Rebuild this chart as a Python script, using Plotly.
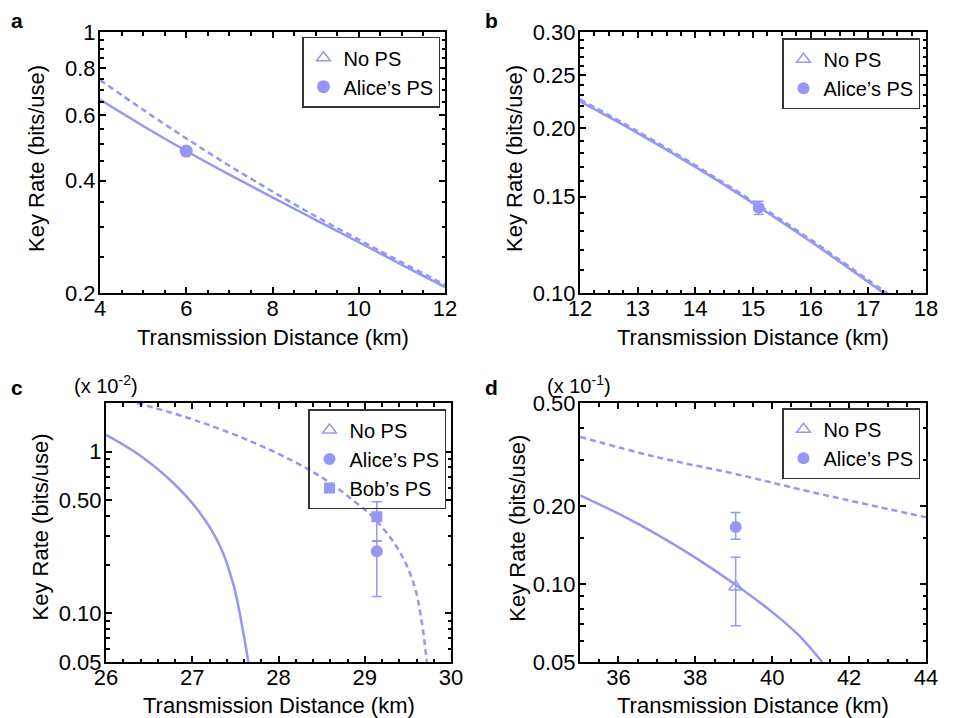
import plotly.graph_objects as go
import numpy as np

COLOR = "rgb(150,150,245)"
FONT = "Liberation Sans, Arial, sans-serif"

# ---------------- Panel a ----------------
a_x = [4, 5, 6, 7, 8, 9, 10, 11, 12]
a_solid = [0.659, 0.560, 0.48, 0.415, 0.3606, 0.314, 0.2735, 0.238, 0.2075]
a_dash = [0.744, 0.619, 0.519, 0.4385, 0.374, 0.321, 0.278, 0.2415, 0.2104]
a_alice_x, a_alice_y, a_alice_err = [6], [0.48], [0.01]
a_xticks = [4, 6, 8, 10, 12]
a_yticks = [0.2, 0.4, 0.6, 0.8, 1]
a_ytext = ["0.2", "0.4", "0.6", "0.8", "1"]
a_yminor = [0.25, 0.3, 0.35, 0.45, 0.5, 0.55, 0.65, 0.7, 0.75, 0.85, 0.9, 0.95]

# ---------------- Panel b ----------------
b_x_solid = [12, 13, 14, 15, 16, 17, 17.3]
b_solid = [0.224, 0.196, 0.170, 0.146, 0.1242, 0.1047, 0.0993]
b_x_dash = [12, 13, 14, 15, 16, 17, 17.35]
b_dash = [0.226, 0.1975, 0.1712, 0.147, 0.1252, 0.1056, 0.0995]
b_alice_x, b_alice_y, b_alice_err = [15.1], [0.1432], [0.004]
b_xticks = [12, 13, 14, 15, 16, 17, 18]
b_yticks = [0.10, 0.15, 0.20, 0.25, 0.30]
b_ytext = ["0.10", "0.15", "0.20", "0.25", "0.30"]
b_yminor = [0.11, 0.12, 0.13, 0.14, 0.16, 0.17, 0.18, 0.19, 0.21, 0.22, 0.23, 0.24, 0.26, 0.27, 0.28, 0.29]

# ---------------- Panel c ----------------
c_x_solid = [26, 26.39, 26.78, 27.09, 27.32, 27.48, 27.59, 27.65]
c_solid = [1.27, 0.95, 0.64, 0.418, 0.262, 0.149, 0.077, 0.05]
c_x_dash = [26.36, 27.09, 27.86, 28.48, 28.95, 29.14, 29.41, 29.58, 29.66, 29.72]
c_dash = [2.0, 1.53, 1.05, 0.705, 0.46, 0.372, 0.238, 0.145, 0.089, 0.05]
c_alice_x, c_alice_y, c_alice_up, c_alice_dn = [29.14], [0.242], [0.038], [0.115]
c_bob_x, c_bob_y, c_bob_up, c_bob_dn = [29.14], [0.396], [0.094], [0.116]
c_xticks = [26, 27, 28, 29, 30]
c_yticks = [0.05, 0.10, 0.50, 1]
c_ytext = ["0.05", "0.10", "0.50", "1"]
c_yminor = [0.06, 0.07, 0.08, 0.09, 0.2, 0.3, 0.4, 0.6, 0.7, 0.8, 0.9, 2]

# ---------------- Panel d ----------------
d_x_solid = [35, 36, 37, 38, 39, 40, 40.7, 41.3]
d_solid = [0.22, 0.187, 0.1556, 0.1265, 0.1005, 0.0779, 0.0632, 0.05]
d_x_dash = [35, 37, 39, 41, 44]
d_dash = [0.37, 0.309, 0.267, 0.227, 0.181]
d_alice_x, d_alice_y, d_alice_up, d_alice_dn = [39.05], [0.166], [0.023], [0.017]
d_nops_x, d_nops_y, d_nops_up, d_nops_dn = [39.05], [0.0975], [0.0295], [0.0285]
d_xticks = [36, 38, 40, 42, 44]
d_yticks = [0.05, 0.10, 0.20, 0.50]
d_ytext = ["0.05", "0.10", "0.20", "0.50"]
d_yminor = [0.06, 0.07, 0.08, 0.09, 0.15, 0.3, 0.4]

# page body has an 8px margin: figure is offset by OFF on both axes
OFF = 8
W, H = 955 - OFF, 718 - OFF


def fx(x):
    return (x - OFF) / W


def fy(y):
    return 1 - (y - OFF) / H


def px(x0, x1):
    return [fx(x0), fx(x1)]


def py(top, bottom):
    return [fy(bottom), fy(top)]


fig = go.Figure()

LW = 2.5
ERR = dict(type="data", color=COLOR, thickness=1.5, width=5)


def add_lines(xs, ys, xd, yd, n):
    xa, ya = ("x" if n == 1 else f"x{n}"), ("y" if n == 1 else f"y{n}")
    fig.add_trace(go.Scatter(x=xd, y=yd, mode="lines", line=dict(color=COLOR, width=LW, dash="6px,4px", shape="spline"),
                             showlegend=False, xaxis=xa, yaxis=ya, hoverinfo="skip"))
    fig.add_trace(go.Scatter(x=xs, y=ys, mode="lines", line=dict(color=COLOR, width=LW, shape="spline"),
                             showlegend=False, xaxis=xa, yaxis=ya, hoverinfo="skip"))


def add_pts(x, y, up, dn, symbol, name, n, size=12, legend_only=False):
    xa, ya = ("x" if n == 1 else f"x{n}"), ("y" if n == 1 else f"y{n}")
    lg = "legend" if n == 1 else f"legend{n}"
    open_sym = symbol.endswith("-open")
    marker = dict(symbol=symbol, size=size, color=COLOR, line=dict(color=COLOR, width=1.5 if open_sym else 0))
    if legend_only:
        fig.add_trace(go.Scatter(x=[None], y=[None], mode="markers", marker=marker, name=name,
                                 xaxis=xa, yaxis=ya, legend=lg))
    else:
        fig.add_trace(go.Scatter(x=x, y=y, mode="markers", marker=marker, name=name,
                                 error_y=dict(ERR, array=up, arrayminus=dn, symmetric=False),
                                 xaxis=xa, yaxis=ya, legend=lg))


# a
add_lines(a_x, a_solid, a_x, a_dash, 1)
add_pts(None, None, None, None, "triangle-up-open", "No PS", 1, legend_only=True)
add_pts(a_alice_x, a_alice_y, a_alice_err, a_alice_err, "circle", "Alice\u2019s PS", 1, size=13)
# b
add_lines(b_x_solid, b_solid, b_x_dash, b_dash, 2)
add_pts(None, None, None, None, "triangle-up-open", "No PS", 2, legend_only=True)
add_pts(b_alice_x, b_alice_y, b_alice_err, b_alice_err, "circle", "Alice\u2019s PS", 2)
# c
add_lines(c_x_solid, c_solid, c_x_dash, c_dash, 3)
add_pts(None, None, None, None, "triangle-up-open", "No PS", 3, legend_only=True)
add_pts(c_alice_x, c_alice_y, c_alice_up, c_alice_dn, "circle", "Alice\u2019s PS", 3)
add_pts(c_bob_x, c_bob_y, c_bob_up, c_bob_dn, "square", "Bob\u2019s PS", 3, size=11)
# d
add_lines(d_x_solid, d_solid, d_x_dash, d_dash, 4)
add_pts(d_nops_x, d_nops_y, d_nops_up, d_nops_dn, "triangle-up-open", "No PS", 4)
add_pts(d_alice_x, d_alice_y, d_alice_up, d_alice_dn, "circle", "Alice\u2019s PS", 4)

TICKFONT = dict(family=FONT, size=22, color="black")


def xaxis(dom, rng, ticks, minor_dtick, anchor):
    return dict(domain=dom, range=rng, anchor=anchor, tickmode="array", tickvals=ticks,
                ticks="inside", ticklen=6, tickwidth=1.5, tickcolor="black",
                showline=True, linecolor="black", linewidth=2, mirror="ticks",
                showgrid=False, zeroline=False, tickfont=TICKFONT, ticklabelstandoff=-5,
                automargin=False,
                minor=dict(ticks="inside", ticklen=3.5, tickwidth=1.5, tickcolor="black",
                           tickmode="linear", tick0=rng[0], dtick=minor_dtick, showgrid=False))


def yaxis(dom, lo, hi, ticks, text, minor, anchor):
    return dict(domain=dom, type="log", range=[np.log10(lo), np.log10(hi)], anchor=anchor,
                tickmode="array", tickvals=ticks, ticktext=text,
                ticks="inside", ticklen=6, tickwidth=1.5, tickcolor="black",
                showline=True, linecolor="black", linewidth=2, mirror="ticks",
                showgrid=False, zeroline=False, tickfont=TICKFONT, ticklabelstandoff=-2,
                automargin=False,
                minor=dict(ticks="inside", ticklen=3.5, tickwidth=1.5, tickcolor="black",
                           tickmode="array", tickvals=minor, showgrid=False))


dom_a_x, dom_b_x = px(100, 445), px(580, 926)
dom_c_x, dom_d_x = px(106, 451), px(580, 926)
dom_top, dom_bot = py(32, 293), py(403, 662)

fig.update_layout(
    template="none",
    width=W, height=H,
    margin=dict(l=0, r=0, t=0, b=0, pad=0, autoexpand=False),
    paper_bgcolor="white", plot_bgcolor="white",
    font=dict(family=FONT, color="black"),
    xaxis=xaxis(dom_a_x, [4, 12], a_xticks, 0.5, "y"),
    yaxis=yaxis(dom_top, 0.2, 1.0, a_yticks, a_ytext, a_yminor, "x"),
    xaxis2=xaxis(dom_b_x, [12, 18], b_xticks, 0.25, "y2"),
    yaxis2=yaxis(dom_top, 0.1, 0.3, b_yticks, b_ytext, b_yminor, "x2"),
    xaxis3=xaxis(dom_c_x, [26, 30], c_xticks, 0.2, "y3"),
    yaxis3=yaxis(dom_bot, 0.05, 2.0, c_yticks, c_ytext, c_yminor, "x3"),
    xaxis4=xaxis(dom_d_x, [35, 44], d_xticks, 0.5, "y4"),
    yaxis4=yaxis(dom_bot, 0.05, 0.5, d_yticks, d_ytext, d_yminor, "x4"),
    showlegend=True,
)

LEG = dict(font=dict(family=FONT, size=20, color="black"), bgcolor="rgba(255,255,255,0)",
           bordercolor="#333333", borderwidth=1.5, xanchor="right", yanchor="top",
           itemwidth=30, tracegroupgap=0)
fig.update_layout(
    legend=dict(LEG, x=fx(440), y=fy(36.7)),
    legend2=dict(LEG, x=fx(920), y=fy(38.3)),
    legend3=dict(LEG, x=fx(446), y=fy(409)),
    legend4=dict(LEG, x=fx(920), y=fy(408.3)),
)

annots = []
TITLEFONT = dict(family=FONT, size=22, color="black")
# x-axis titles
for cx, cy in [(272.5, 337), (753, 337), (278.5, 705.5), (753, 705.5)]:
    annots.append(dict(text="Transmission Distance (km)", x=fx(cx), y=fy(cy), xref="paper", yref="paper",
                       showarrow=False, font=TITLEFONT, xanchor="center", yanchor="middle"))
# y-axis titles
for cx, cy in [(37, 159), (515, 159), (40, 527.5), (516.7, 528)]:
    annots.append(dict(text="Key Rate (bits/use)", x=fx(cx), y=fy(cy), xref="paper", yref="paper",
                       showarrow=False, font=TITLEFONT, textangle=-90, xanchor="center", yanchor="middle"))
# panel letters
for t, cx, cy in [("a", 16.5, 21), ("b", 491.7, 21), ("c", 16.5, 388), ("d", 491.7, 388)]:
    annots.append(dict(text=f"<b>{t}</b>", x=fx(cx), y=fy(cy), xref="paper", yref="paper",
                       showarrow=False, font=dict(family=FONT, size=21, color="black"),
                       xanchor="center", yanchor="middle"))
# scale notes
for t, cx, cy in [("(x 10<sup>-2</sup>)", 106, 384), ("(x 10<sup>-1</sup>)", 579, 384)]:
    annots.append(dict(text=t, x=fx(cx), y=fy(cy), xref="paper", yref="paper",
                       showarrow=False, font=dict(family=FONT, size=20, color="black"),
                       xanchor="center", yanchor="middle"))
fig.update_layout(annotations=annots)

fig.write_html("out.html")
